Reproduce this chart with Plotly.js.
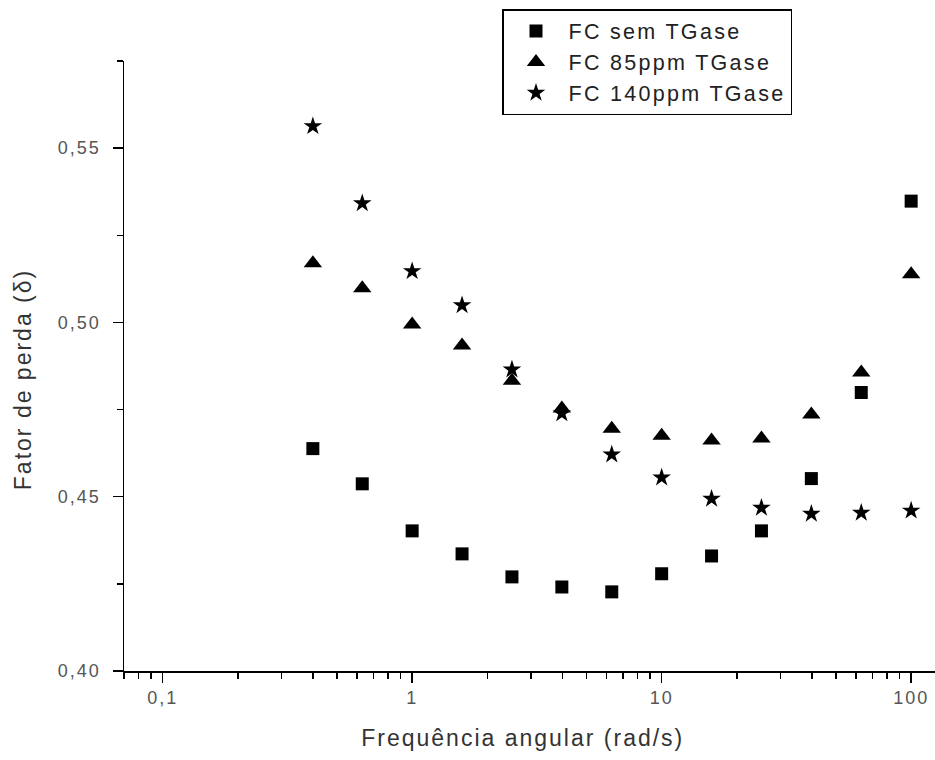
<!DOCTYPE html>
<html><head><meta charset="utf-8">
<script src="https://cdn.plot.ly/plotly-3.0.1.min.js"></script>
<style>
html,body{margin:0;padding:0;background:#fff;}
#chart{width:935px;height:760px;}
.xtitle,.ytitle{letter-spacing:2px;}
.legendtext{letter-spacing:2.3px;}
.xtick text,.ytick text{letter-spacing:2px;}
</style></head>
<body><div id="chart"></div>
<script>
const freq = [0.4, 0.631, 1, 1.585, 2.512, 3.981, 6.31, 10, 15.85, 25.12, 39.81, 63.1, 100];
const semTGase = [0.4638, 0.4537, 0.4402, 0.4336, 0.4270, 0.4241, 0.4227, 0.4279, 0.4330, 0.4402, 0.4552, 0.4799, 0.5348];
const tg85 = [0.5170, 0.5098, 0.4994, 0.4934, 0.4833, 0.4753, 0.4695, 0.4675, 0.4661, 0.4667, 0.4736, 0.4856, 0.5138];
const tg140 = [0.5563, 0.5342, 0.5147, 0.5049, 0.4865, 0.4739, 0.4621, 0.4555, 0.4494, 0.4468, 0.4451, 0.4454, 0.4460];
const names = ['FC sem TGase', 'FC 85ppm TGase', 'FC 140ppm TGase'];
const series = [semTGase, tg85, tg140];
const symbols = ['square', 'triangle-up', 'star'];
const sizes = [13, 16, 14];

const traces = series.map((s, i) => ({
  x: freq, y: s, name: names[i], type: 'scatter', mode: 'markers',
  legendgroup: 'g' + i,
  marker: {symbol: symbols[i], size: sizes[i], color: '#000', line: {width: 0}}
}));

const pad = t => '<span style="color:rgba(0,0,0,0)">' + t + '</span>';
const fontFam = 'Liberation Sans, Arial, sans-serif';
const layout = {
  width: 935, height: 760,
  margin: {l: 124, r: 0, t: 61, b: 89},
  paper_bgcolor: '#fff', plot_bgcolor: '#fff',
  separators: ',.',
  showlegend: true,
  font: {family: fontFam, color: '#333'},
  xaxis: {
    type: 'log', range: [Math.log10(0.07), Math.log10(0.07) + 811 / 249.5],
    dtick: 1, showgrid: false, zeroline: false,
    showline: true, linecolor: '#000', linewidth: 1.5,
    ticks: 'outside', ticklen: 10, tickwidth: 1.5, tickcolor: '#000',
    minor: {dtick: 'D1', ticks: 'outside', ticklen: 6, tickwidth: 1.5, tickcolor: '#000', showgrid: false},
    tickfont: {size: 18, color: '#555'},
    title: {text: 'Frequência angular (rad/s)' + pad('x'), font: {size: 23, color: '#333'}, standoff: 23}
  },
  yaxis: {
    range: [0.40, 0.575], dtick: 0.05, tick0: 0.40, tickformat: '.2f',
    showgrid: false, zeroline: false,
    showline: true, linecolor: '#000', linewidth: 1.5,
    ticks: 'outside', ticklen: 10, tickwidth: 1.5, tickcolor: '#000',
    minor: {dtick: 0.025, ticks: 'outside', ticklen: 6, tickwidth: 1.5, tickcolor: '#000', showgrid: false},
    tickfont: {size: 18, color: '#555'},
    ticklabelstandoff: 8,
    title: {text: 'Fator de perda (δ)' + pad('xx'), font: {size: 23, color: '#333'}, standoff: 20}
  },
  legend: {
    x: (502 - 124) / 811, y: (671 - 9) / 610, xanchor: 'left', yanchor: 'top',
    bgcolor: '#fff', bordercolor: '#000', borderwidth: 1.5,
    font: {size: 21.5, color: '#222'}, tracegroupgap: 0, itemwidth: 55
  }
};

Plotly.newPlot('chart', traces, layout, {displayModeBar: false, staticPlot: true});
</script>
</body></html>
